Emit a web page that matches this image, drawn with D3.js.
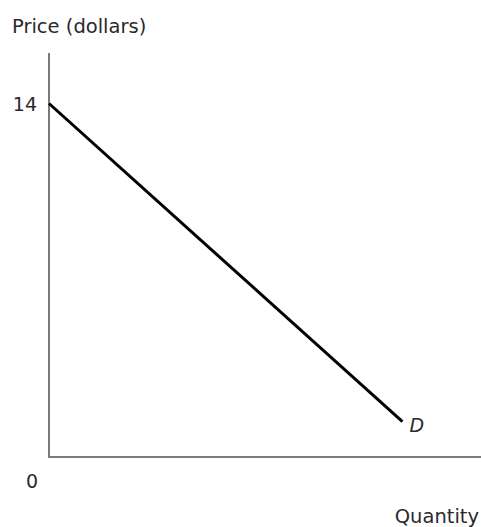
<!DOCTYPE html>
<html>
<head>
<meta charset="utf-8">
<script src="https://cdn.jsdelivr.net/npm/d3@7"></script>
<style>
  body { margin: 0; background: #fff; }
  text { font-family: "DejaVu Sans", sans-serif; fill: #2a2a2a; }
</style>
</head>
<body>
<div id="chart"></div>
<script>
// demand curve points (quantity, price)
var demandQ = [0, 12.6];
var demandP = [14, 1.4];
var yTicks = [14];
var curveLabel = "D";

var width = 481, height = 527;

var svg = d3.select("#chart").append("svg")
  .attr("width", width)
  .attr("height", height);

// scales: origin at (49,457)
var x = d3.scaleLinear().domain([0, 15.4]).range([49, 481]);
var y = d3.scaleLinear().domain([0, 16]).range([457, 53]);

// axes
svg.append("line")
  .attr("x1", x(0)).attr("x2", x(0))
  .attr("y1", y(0)).attr("y2", y(16))
  .attr("stroke", "#7a7a7a").attr("stroke-width", 2);
svg.append("line")
  .attr("x1", x(0) - 1).attr("x2", x(15.4))
  .attr("y1", y(0)).attr("y2", y(0))
  .attr("stroke", "#7a7a7a").attr("stroke-width", 2);

// tick labels
svg.selectAll(".ytick")
  .data(yTicks)
  .enter()
  .append("text")
  .attr("class", "ytick")
  .attr("x", 37)
  .attr("y", function(d) { return y(d) + 7; })
  .attr("text-anchor", "end")
  .style("font-size", "19px")
  .text(function(d) { return d; });

svg.append("text")
  .attr("x", 32).attr("y", 488)
  .attr("text-anchor", "middle")
  .style("font-size", "19px")
  .text("0");

// axis titles
svg.append("text")
  .attr("x", 12).attr("y", 33)
  .style("font-size", "19.5px")
  .text("Price (dollars)");

svg.append("text")
  .attr("x", 479).attr("y", 523)
  .attr("text-anchor", "end")
  .style("font-size", "19.5px")
  .text("Quantity");

// demand curve
var pts = demandQ.map(function(q, i) { return [q, demandP[i]]; });
svg.append("path")
  .datum(pts)
  .attr("d", d3.line()
    .x(function(d) { return x(d[0]); })
    .y(function(d) { return y(d[1]); }))
  .attr("fill", "none")
  .attr("stroke", "#000")
  .attr("stroke-width", 3);

svg.append("text")
  .attr("x", x(demandQ[1]) + 7)
  .attr("y", y(demandP[1]) + 10)
  .style("font-size", "19px")
  .style("font-style", "italic")
  .text(curveLabel);
</script>
</body>
</html>
